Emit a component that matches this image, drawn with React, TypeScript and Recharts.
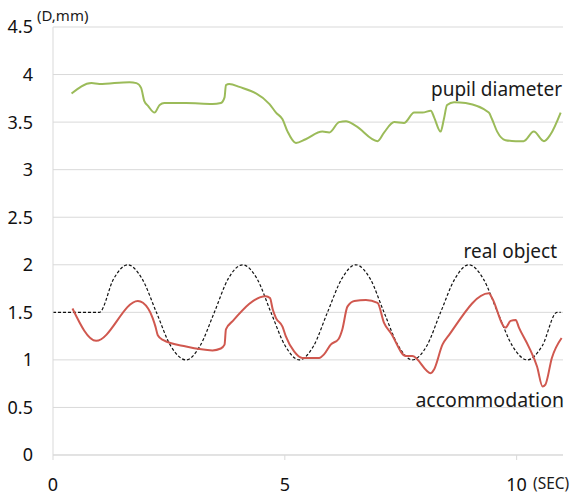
import { LineChart, Line, XAxis, YAxis, CartesianGrid } from 'recharts';

// time (sec) / value pairs
const pupilTime = [0.4, 0.83, 1.0, 1.65, 1.8, 1.9, 1.97, 2.05, 2.19, 2.3, 2.4, 2.87, 3.44, 3.62, 3.7, 3.73, 3.8, 4.02, 4.67, 4.81, 4.95, 5.06, 5.24, 5.45, 5.81, 5.96, 6.17, 6.32, 6.53, 7.0, 7.14, 7.36, 7.57, 7.79, 7.97, 8.15, 8.22, 8.36, 8.43, 8.5, 8.65, 8.9, 9.4, 9.47, 9.58, 9.76, 9.98, 10.15, 10.37, 10.59, 10.73, 10.95];
const pupilValue = [3.8, 3.91, 3.9, 3.92, 3.91, 3.86, 3.72, 3.67, 3.6, 3.68, 3.7, 3.7, 3.69, 3.7, 3.76, 3.89, 3.9, 3.87, 3.69, 3.6, 3.53, 3.4, 3.28, 3.32, 3.4, 3.39, 3.5, 3.51, 3.46, 3.3, 3.39, 3.5, 3.49, 3.6, 3.6, 3.62, 3.55, 3.4, 3.53, 3.68, 3.71, 3.7, 3.6, 3.53, 3.4, 3.31, 3.3, 3.3, 3.4, 3.3, 3.37, 3.6];

const objectTime = [0, 1.0, 1.31, 1.61, 1.92, 2.23, 2.54, 2.87, 3.17, 3.48, 3.78, 4.09, 4.4, 4.7, 5.01, 5.31, 5.62, 5.92, 6.23, 6.53, 6.84, 7.14, 7.45, 7.75, 8.06, 8.36, 8.67, 8.97, 9.28, 9.59, 9.91, 10.23, 10.55, 10.87, 10.95];
const objectValue = [1.5, 1.5, 1.854, 2.0, 1.854, 1.5, 1.146, 1.0, 1.146, 1.5, 1.854, 2.0, 1.854, 1.5, 1.146, 1.0, 1.146, 1.5, 1.854, 2.0, 1.854, 1.5, 1.146, 1.0, 1.146, 1.5, 1.854, 2.0, 1.854, 1.5, 1.146, 1.0, 1.146, 1.5, 1.5];

const accomTime = [0.42, 0.93, 1.83, 1.94, 2.15, 2.21, 2.26, 2.37, 2.87, 3.44, 3.62, 3.7, 3.73, 3.88, 4.59, 4.68, 4.74, 4.81, 4.95, 5.02, 5.2, 5.38, 5.74, 5.85, 5.99, 6.16, 6.24, 6.35, 6.5, 6.75, 7.0, 7.14, 7.29, 7.61, 7.75, 8.15, 8.22, 8.4, 8.54, 9.4, 9.47, 9.76, 9.87, 9.98, 10.05, 10.26, 10.44, 10.56, 10.62, 10.76, 10.97];
const accomValue = [1.54, 1.2, 1.62, 1.6, 1.44, 1.35, 1.26, 1.21, 1.14, 1.1, 1.12, 1.16, 1.32, 1.41, 1.67, 1.65, 1.53, 1.44, 1.35, 1.25, 1.09, 1.02, 1.02, 1.06, 1.16, 1.22, 1.32, 1.56, 1.62, 1.63, 1.6, 1.39, 1.28, 1.04, 1.04, 0.86, 0.9, 1.16, 1.26, 1.7, 1.65, 1.34, 1.41, 1.42, 1.34, 1.14, 0.93, 0.72, 0.74, 1.02, 1.23];

const yTicks = [0, 0.5, 1, 1.5, 2, 2.5, 3, 3.5, 4, 4.5];
const xTicks = [0, 5, 10];

const pupil = pupilTime.map((t, i) => ({ t, v: pupilValue[i] }));
const realObject = objectTime.map((t, i) => ({ t, v: objectValue[i] }));
const accommodation = accomTime.map((t, i) => ({ t, v: accomValue[i] }));

const FONT = '"Noto Sans", "Open Sans", sans-serif';
const GRID = '#d9d9d9';

export default function App(): React.ReactElement {
  const note: React.CSSProperties = { position: 'absolute', fontFamily: FONT, color: '#1a1a1a', whiteSpace: 'nowrap', lineHeight: 1 };
  return (
    <div style={{ position: 'relative', width: 570, height: 495, background: '#fff' }}>
      <style>{'body{margin:0}'}</style>
      <LineChart width={570} height={495} margin={{ top: 27, right: 7, bottom: 10, left: 0 }}>
        <CartesianGrid vertical={false} stroke={GRID} strokeWidth={1} />
        <XAxis
          type="number"
          dataKey="t"
          domain={[0, 11]}
          ticks={xTicks}
          height={30}
          stroke={GRID}
          tickSize={5}
          tickMargin={18}
          tick={{ fill: '#111', fontSize: 18, fontFamily: FONT }}
          allowDataOverflow
        />
        <YAxis
          type="number"
          domain={[0, 4.5]}
          ticks={yTicks}
          width={53}
          stroke={GRID}
          tickLine={false}
          tickSize={0}
          tickMargin={20}
          tick={{ fill: '#111', fontSize: 18, fontFamily: FONT }}
        />
        <Line data={pupil} dataKey="v" type="monotone" stroke="#9bbb59" strokeWidth={2} dot={false} isAnimationActive={false} />
        <Line data={realObject} dataKey="v" type="monotone" stroke="#111" strokeWidth={1.2} strokeDasharray="3 2" dot={false} isAnimationActive={false} />
        <Line data={accommodation} dataKey="v" type="monotone" stroke="#d0584f" strokeWidth={2} dot={false} isAnimationActive={false} />
      </LineChart>
      <div style={{ ...note, left: 37, top: 8, fontSize: 15 }}>(D,mm)</div>
      <div style={{ ...note, left: 533, top: 476, fontSize: 15.5 }}>(SEC)</div>
      <div style={{ ...note, right: 8, top: 80, fontSize: 19 }}>pupil diameter</div>
      <div style={{ ...note, right: 13, top: 242, fontSize: 19 }}>real object</div>
      <div style={{ ...note, right: 6, top: 390, fontSize: 19.5 }}>accommodation</div>
    </div>
  );
}
